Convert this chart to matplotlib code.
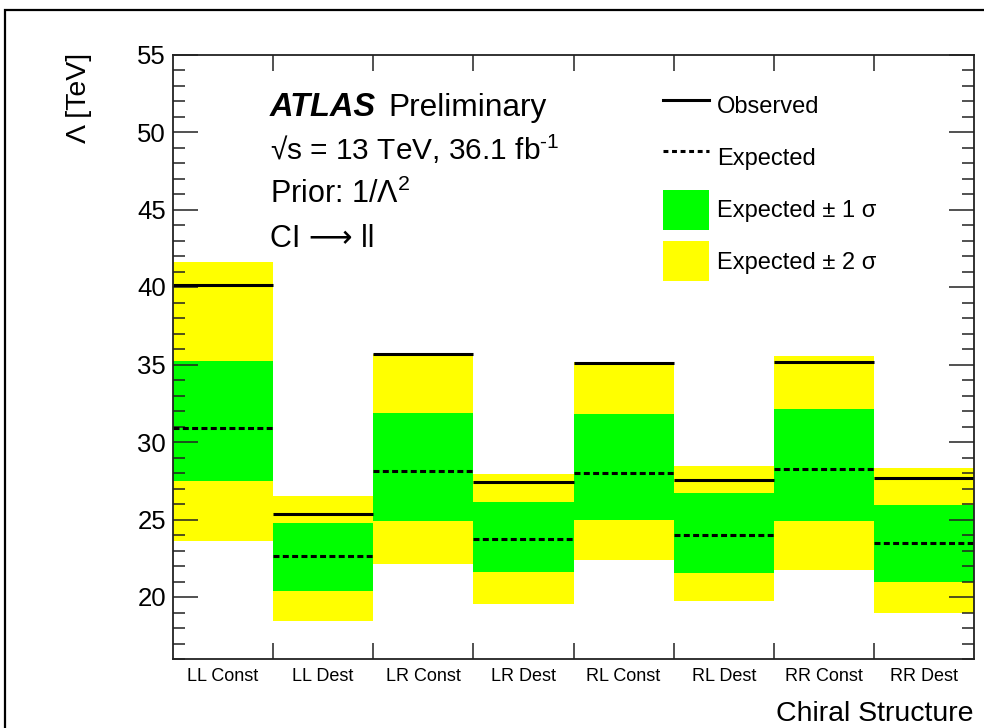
import numpy as np
import matplotlib
matplotlib.use("Agg")
import matplotlib.pyplot as plt
from matplotlib.lines import Line2D
from matplotlib.patches import Patch, Rectangle

plt.rcParams["font.family"] = ["Liberation Sans", "DejaVu Sans"]
plt.rcParams["mathtext.fontset"] = "custom"
plt.rcParams["mathtext.rm"] = "Liberation Sans"
plt.rcParams["mathtext.default"] = "regular"

# limits on Lambda [TeV] per chiral structure
categories = ["LL Const", "LL Dest", "LR Const", "LR Dest", "RL Const", "RL Dest", "RR Const", "RR Dest"]
observed = [40.13, 25.35, 35.68, 27.44, 35.12, 27.55, 35.18, 27.70]
expected = [30.88, 22.67, 28.13, 23.76, 28.00, 23.98, 28.26, 23.48]
band1_lo = [27.50, 20.40, 24.92, 21.60, 24.97, 21.55, 24.90, 20.95]
band1_hi = [35.25, 24.75, 31.87, 26.15, 31.81, 26.69, 32.13, 25.94]
band2_lo = [23.63, 18.45, 22.15, 19.55, 22.41, 19.76, 21.76, 18.95]
band2_hi = [41.63, 26.52, 35.65, 27.95, 35.15, 28.45, 35.55, 28.32]

GREEN, YELLOW = "#00ff00", "#ffff00"
W, H = 984, 728

fig = plt.figure(figsize=(W / 100, H / 100), dpi=100)
ax = fig.add_axes([173 / W, 1 - 659 / H, (974 - 173) / W, (659 - 54.5) / H])

x = np.arange(len(categories))
lo2, hi2 = np.array(band2_lo), np.array(band2_hi)
lo1, hi1 = np.array(band1_lo), np.array(band1_hi)
ax.bar(x, hi2 - lo2, bottom=lo2, width=1.0, color=YELLOW, linewidth=0, zorder=1)
ax.bar(x, hi1 - lo1, bottom=lo1, width=1.0, color=GREEN, linewidth=0, zorder=1.1)
ax.hlines(observed, x - 0.5, x + 0.5, colors="black", linewidth=2.2, zorder=2)
ax.hlines(expected, x - 0.5, x + 0.5, colors="black", linewidth=2.2,
          linestyles=(0, (1.95, 1.1)), zorder=2)

ax.set_xlim(-0.5, len(categories) - 0.5)
ax.set_ylim(16, 55)

# ROOT style ticks
ax.set_xticks(x[:-1] + 0.5)
ax.set_xticklabels([])
ax.set_xticks(x, minor=True)
ax.set_xticklabels(categories, minor=True, fontsize=13)
ax.tick_params(axis="x", which="major", direction="in", length=11.5, width=1.1,
               top=True, bottom=True, color="#222222")
ax.tick_params(axis="x", which="minor", length=0, pad=6.5)
ax.set_yticks(np.arange(20, 56, 5))
ax.set_yticks(np.arange(16, 56, 1), minor=True)
ax.tick_params(axis="y", which="major", direction="in", length=18, width=1.1,
               left=True, right=True, labelsize=18.5, pad=5, color="#222222")
ax.tick_params(axis="y", which="minor", direction="in", length=8.6, width=1.1,
               left=True, right=True, color="#222222")
for s in ax.spines.values():
    s.set_linewidth(1.3)
    s.set_color("#222222")

# axis titles
fig.text(78.5 / W, 1 - 53 / H, "Λ [TeV]", rotation=90, ha="center", va="top", fontsize=20.5)
fig.text(974 / W, 1 - 721 / H, "Chiral Structure", ha="right", va="baseline", fontsize=20.5)

# labels
tx = 270 / W
fig.text(tx, 1 - 116 / H, "ATLAS", fontsize=23.5, fontweight="bold", fontstyle="italic", va="baseline")
fig.text(388 / W, 1 - 116 / H, "Preliminary", fontsize=22.8, va="baseline")
fig.text(tx, 1 - 160 / H, r"√s = 13 TeV, 36.1 fb$^{\text{-1}}$", fontsize=21.5, va="baseline")
fig.text(tx, 1 - 203 / H, "Prior: 1/Λ$^{2}$", fontsize=22, va="baseline")
fig.text(tx, 1 - 247 / H, "CI ⟶ ll", fontsize=22, va="baseline")

handles = [
    Line2D([0], [0], color="black", linewidth=2.2),
    Line2D([0], [0], color="black", linewidth=2.2, linestyle=(0, (1.6, 1.2))),
    Patch(facecolor=GREEN, edgecolor="none"),
    Patch(facecolor=YELLOW, edgecolor="none"),
]
labels = ["Observed", "Expected", "Expected ± 1 σ", "Expected ± 2 σ"]
ax.legend(handles, labels, loc="upper left", bbox_to_anchor=(663 / W, 1 - 86 / H),
          bbox_transform=fig.transFigure, frameon=False, fontsize=17,
          handlelength=1.95, handleheight=2.23, labelspacing=0.5, handletextpad=0.35,
          borderpad=0, borderaxespad=0)

# outer canvas frame
fig.patches.append(Rectangle((5 / W, -0.1), 1.2, 1.1 - 10 / H, transform=fig.transFigure,
                             fill=False, edgecolor="black", linewidth=1.6, clip_on=False))

fig.savefig("out.png", dpi=100)
